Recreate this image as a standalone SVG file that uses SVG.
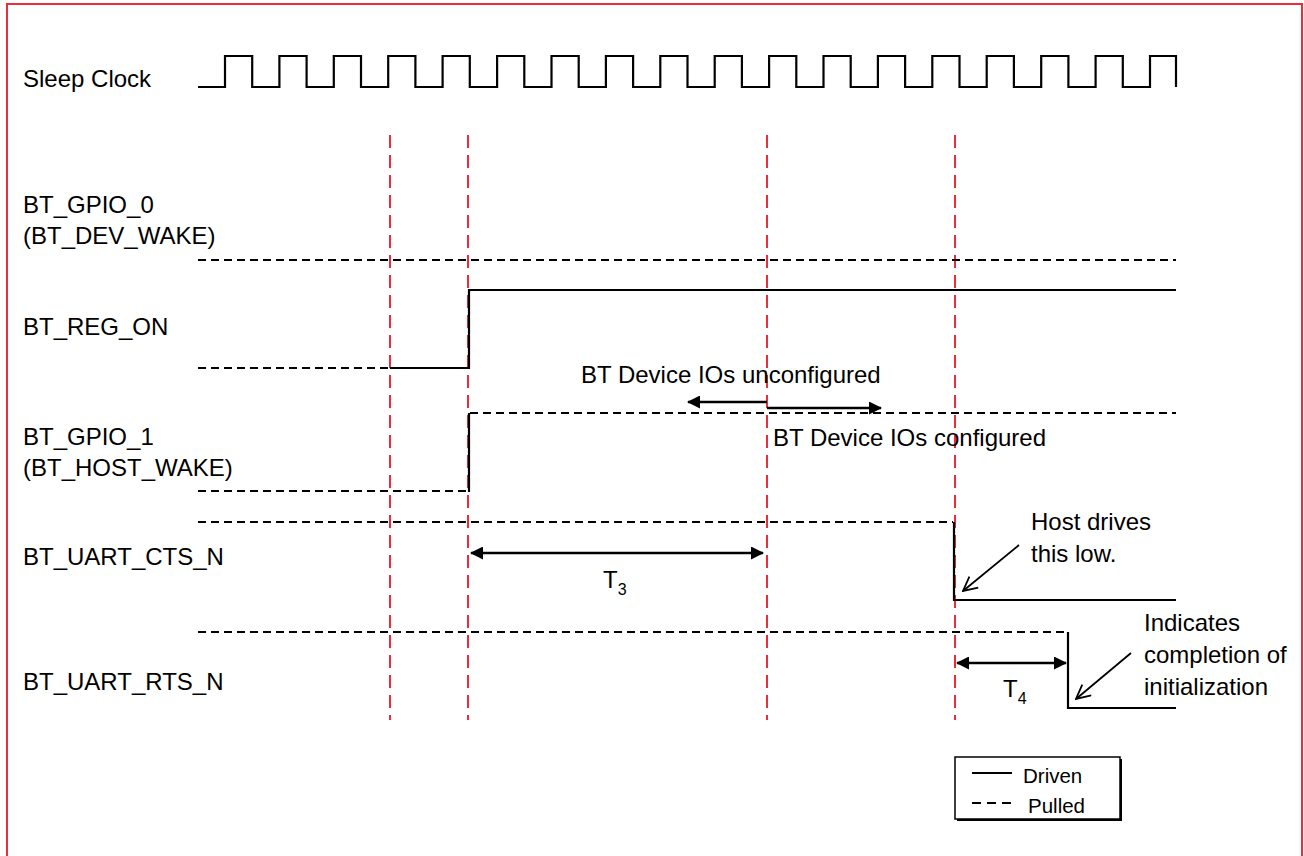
<svg xmlns="http://www.w3.org/2000/svg" width="1304" height="856" viewBox="0 0 1304 856">
<style>
text{font-family:"Liberation Sans",Arial,sans-serif;font-size:24px;fill:#000}
.lg{font-size:20.5px}
.sub{font-size:16px}
.solid{fill:none;stroke:#000;stroke-width:2.2}
.dash{fill:none;stroke:#000;stroke-width:2;stroke-dasharray:8,5}
.red{fill:none;stroke:#ee2b38;stroke-width:2;stroke-dasharray:13,7}
.arr{fill:none;stroke:#000;stroke-width:2.5}
.ptr{fill:none;stroke:#000;stroke-width:1.8}
</style>
<defs>
<marker id="fa" viewBox="0 0 13 13" refX="12" refY="6.5" markerWidth="13" markerHeight="13" markerUnits="userSpaceOnUse" orient="auto-start-reverse"><path d="M0,0 L13,6.5 L0,13 Z" fill="#000"/></marker>
<marker id="oa" viewBox="0 0 16 16" refX="15" refY="8" markerWidth="16" markerHeight="16" markerUnits="userSpaceOnUse" orient="auto"><path d="M1,1 L15,8 L1,15" fill="none" stroke="#000" stroke-width="1.8"/></marker>
</defs>
<rect x="0" y="0" width="1304" height="856" fill="#fff"/>
<rect id="frame" x="7" y="4" width="1295" height="900" fill="none" stroke="#ee2b38" stroke-width="2"/>
<g id="markers">
<line class="red" x1="390" y1="135" x2="390" y2="720"/>
<line class="red" x1="468" y1="135" x2="468" y2="720"/>
<line class="red" x1="767" y1="135" x2="767" y2="720"/>
<line class="red" x1="955" y1="135" x2="955" y2="720"/>
</g>
<g id="sleep-clock">
<text x="23" y="87">Sleep Clock</text>
<path class="solid" d="M198,87 H225 V56 H252.2 V87 H279.4 V56 H306.6 V87 H333.8 V56 H361 V87 H388.2 V56 H415.4 V87 H442.6 V56 H469.8 V87 H497.1 V56 H524.3 V87 H551.5 V56 H578.7 V87 H605.9 V56 H633.1 V87 H660.3 V56 H687.5 V87 H714.7 V56 H741.9 V87 H769.1 V56 H796.3 V87 H823.5 V56 H850.7 V87 H877.9 V56 H905.1 V87 H932.3 V56 H959.5 V87 H986.7 V56 H1013.9 V87 H1041.2 V56 H1068.4 V87 H1095.6 V56 H1122.8 V87 H1150 V56 H1176 V87"/>
</g>
<g id="bt-gpio-0">
<text x="23" y="213">BT_GPIO_0</text>
<text x="23" y="244">(BT_DEV_WAKE)</text>
<line class="dash" x1="198" y1="260" x2="1176" y2="260"/>
</g>
<g id="bt-reg-on">
<text x="23" y="335">BT_REG_ON</text>
<line class="dash" x1="198" y1="368" x2="390" y2="368"/>
<path class="solid" d="M390,368 H469 V290 H1176"/>
</g>
<g id="bt-gpio-1">
<text x="23" y="445">BT_GPIO_1</text>
<text x="23" y="476">(BT_HOST_WAKE)</text>
<line class="dash" x1="198" y1="491" x2="468" y2="491"/>
<line class="solid" x1="469" y1="492" x2="469" y2="413"/>
<line class="dash" x1="470" y1="413" x2="1176" y2="413"/>
<text x="581" y="383">BT Device IOs unconfigured</text>
<text x="773" y="446">BT Device IOs configured</text>
</g>
<g id="bt-uart-cts-n">
<text x="23" y="565">BT_UART_CTS_N</text>
<line class="dash" x1="198" y1="522" x2="953" y2="522"/>
<path class="solid" d="M954,522 V600 H1176"/>
<text x="1031" y="530">Host drives</text>
<text x="1031" y="562">this low.</text>
</g>
<g id="bt-uart-rts-n">
<text x="23" y="690">BT_UART_RTS_N</text>
<line class="dash" x1="198" y1="632" x2="1067" y2="632"/>
<path class="solid" d="M1068,632 V708 H1176"/>
<text x="1144" y="631">Indicates</text>
<text x="1144" y="663">completion of</text>
<text x="1144" y="695">initialization</text>
</g>
<g id="connectors">
<line class="arr" x1="767" y1="402" x2="688" y2="402" marker-end="url(#fa)"/>
<line class="arr" x1="767" y1="408" x2="881" y2="408" marker-end="url(#fa)"/>
<line class="arr" x1="471" y1="553" x2="763" y2="553" marker-start="url(#fa)" marker-end="url(#fa)"/>
<line class="arr" x1="957" y1="663" x2="1066" y2="663" marker-start="url(#fa)" marker-end="url(#fa)"/>
<line class="ptr" x1="1019" y1="545" x2="963" y2="591" marker-end="url(#oa)"/>
<line class="ptr" x1="1131" y1="653" x2="1076" y2="699" marker-end="url(#oa)"/>
</g>
<g id="t3-label"><text x="603" y="588">T<tspan class="sub" dy="7">3</tspan></text></g>
<g id="t4-label"><text x="1003" y="697">T<tspan class="sub" dy="7">4</tspan></text></g>
<g id="legend">
<rect x="957" y="759" width="165" height="62" fill="#000"/>
<rect x="955" y="757" width="165" height="62" fill="#fff" stroke="#000" stroke-width="1.5"/>
<line class="solid" x1="972" y1="773" x2="1012" y2="773" style="stroke-width:1.8"/>
<text class="lg" x="1023" y="783">Driven</text>
<line class="dash" x1="972" y1="803" x2="1012" y2="803" style="stroke-dasharray:9,6"/>
<text class="lg" x="1028" y="813">Pulled</text>
</g>
</svg>
